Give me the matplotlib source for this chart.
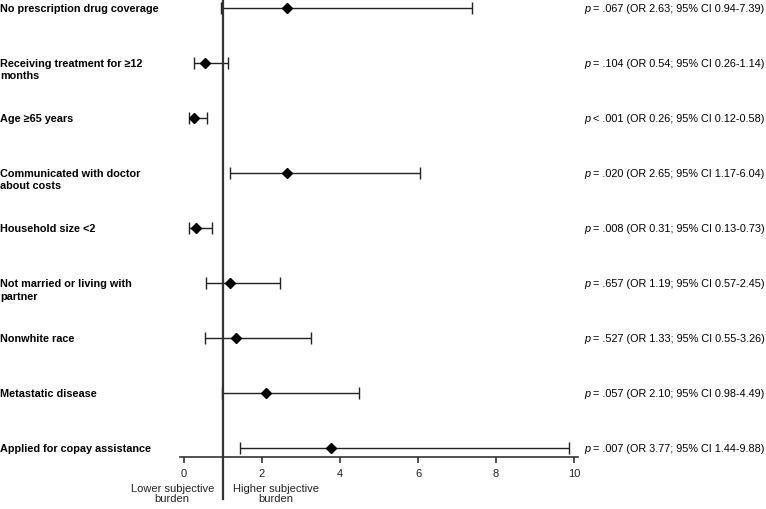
import matplotlib
matplotlib.use("Agg")
import matplotlib.pyplot as plt
import matplotlib.transforms as mtransforms

plt.rcParams['font.family'] = ['Liberation Sans', 'DejaVu Sans']

labels = [
    ["No prescription drug coverage"],
    ["Receiving treatment for \u226512", "months"],
    ["Age \u226565 years"],
    ["Communicated with doctor", "about costs"],
    ["Household size <2"],
    ["Not married or living with", "partner"],
    ["Nonwhite race"],
    ["Metastatic disease"],
    ["Applied for copay assistance"],
]
odds = [2.63, 0.54, 0.26, 2.65, 0.31, 1.19, 1.33, 2.10, 3.77]
ci_low = [0.94, 0.26, 0.12, 1.17, 0.13, 0.57, 0.55, 0.98, 1.44]
ci_high = [7.39, 1.14, 0.58, 6.04, 0.73, 2.45, 3.26, 4.49, 9.88]
pvals = ["= .067", "= .104", "< .001", "= .020", "= .008", "= .657", "= .527", "= .057", "= .007"]
xticks = [0, 2, 4, 6, 8, 10]

fig = plt.figure(figsize=(7.66, 5.10), dpi=100)
ax = fig.add_axes([180 / 766, 52 / 510, 398 / 766, 458 / 510])

rows = list(range(len(odds)))
for i in rows:
    ax.errorbar(odds[i], i, xerr=[[odds[i] - ci_low[i]], [ci_high[i] - odds[i]]],
                fmt='D', color='black', ecolor='#222222', elinewidth=1,
                capsize=4, capthick=1, markersize=5.5)

ax.set_xlim(-0.1, 10.1)
ax.set_ylim(8.16, -0.16)
ax.set_xticks(xticks)
ax.set_xticklabels([str(t) for t in xticks], fontsize=8, color='#222222')
ax.set_yticks([])
for s in ['left', 'right', 'top']:
    ax.spines[s].set_visible(False)
ax.spines['bottom'].set_color('#333333')
ax.spines['bottom'].set_linewidth(1.2)
ax.tick_params(axis='x', direction='out', length=4, width=1.2, color='#333333', pad=4)

ax.axvline(1, ymin=-0.092, ymax=1, color='#333333', linewidth=1.6, clip_on=False)

# row labels at the left, bold; extra lines go below
trans = mtransforms.blended_transform_factory(fig.transFigure, ax.transData)
for i, lines in enumerate(labels):
    for j, line in enumerate(lines):
        off = mtransforms.offset_copy(trans, fig=fig, x=0, y=-9 * j, units='points')
        ax.text(0.0, i, line, transform=off, ha='left', va='center',
                fontsize=7.8, fontweight='bold', color='black')
    ax.text(584 / 766, i, "p", transform=trans, ha='left', va='center',
            fontsize=7.8, style='italic', color='black')
    ax.text(590 / 766, i, " %s (OR %.2f; 95%% CI %.2f-%.2f)" % (pvals[i], odds[i], ci_low[i], ci_high[i]),
            transform=trans, ha='left', va='center', fontsize=7.8, color='black')

ax.text(-0.3, 8.16 + 0.47, "Lower subjective\nburden", ha='center', va='top',
        fontsize=8, color='#222222', linespacing=1.05)
ax.text(2.36, 8.16 + 0.47, "Higher subjective\nburden", ha='center', va='top',
        fontsize=8, color='#222222', linespacing=1.05)

fig.savefig("out.png", dpi=100)
